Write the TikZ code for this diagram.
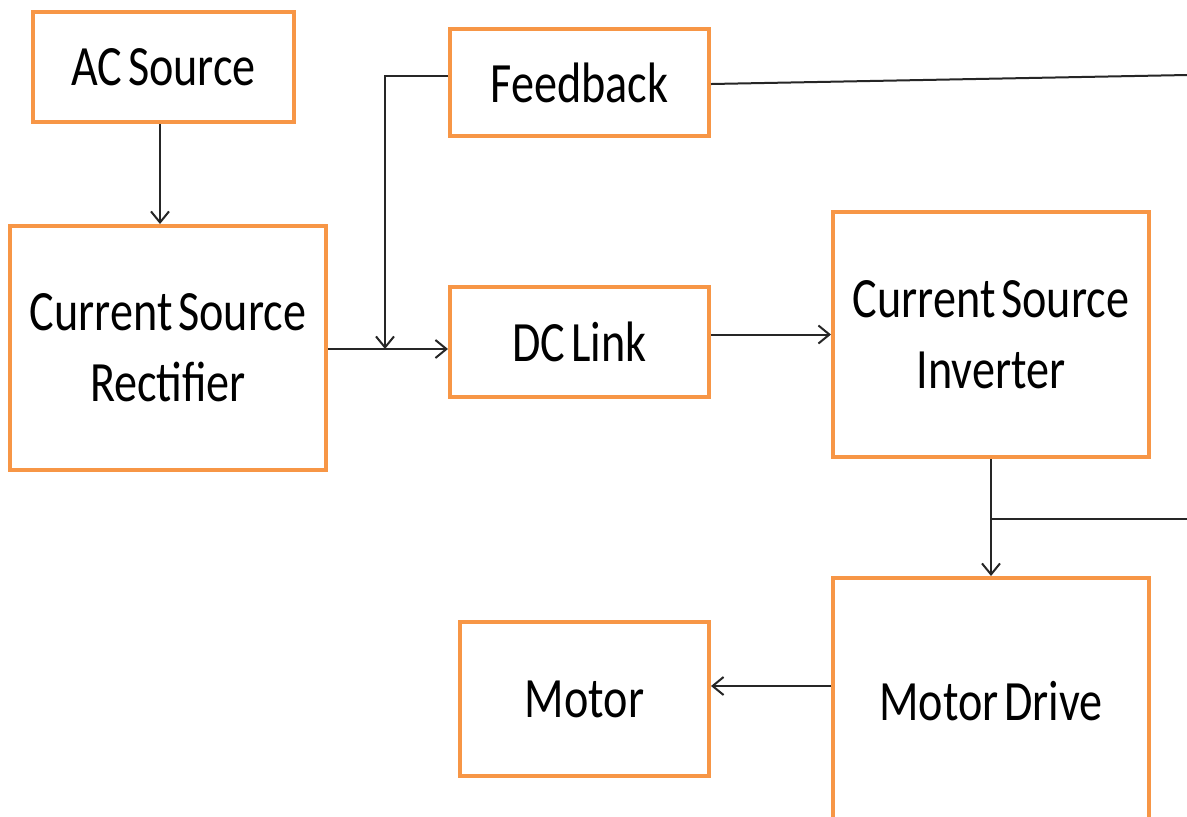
\documentclass[tikz,border=0pt]{standalone}
\usepackage{fontspec}
\setmainfont{Carlito}[FakeStretch=0.81, WordSpace=0.55]
\usetikzlibrary{arrows.meta}
\definecolor{boxorange}{HTML}{F79646}
\definecolor{wire}{HTML}{262626}
\tikzset{
  block/.style={draw=boxorange, line width=2pt, fill=white, inner sep=0pt,
    align=center, font=\fontsize{28.5pt}{35.5pt}\selectfont},
  wireline/.style={draw=wire, line width=1pt},
  arr/.style={wireline, -{Straight Barb[length=5.5pt,width=9pt]}}
}
\begin{document}
\begin{tikzpicture}[x=0.5pt,y=-0.5pt]
  \clip (0,0) rectangle (1187,816);
  \fill[white] (0,0) rectangle (1187,816);

  % blocks
  \node[block, minimum width=130.5pt, minimum height=55pt] (ac) at (163.5,67) {AC Source};
  \node[block, minimum width=158pt, minimum height=122pt] (rect) at (168,348) {Current Source\\Rectifier};
  \node[block, minimum width=129.5pt, minimum height=53.5pt] (fb) at (579.5,82.5) {Feedback};
  \node[block, minimum width=129.5pt, minimum height=55pt] (dc) at (579.5,342) {DC Link};
  \node[block, minimum width=158pt, minimum height=122.5pt] (inv) at (991,334.5) {Current Source\\Inverter};
  \node[block, minimum width=124.5pt, minimum height=77pt] (motor) at (584.5,699) {Motor};
  \node[block, minimum width=158pt, minimum height=123pt] (drive) at (991,701) {Motor Drive};

  % junctions and free ends
  \coordinate (jn) at (385,349);
  \coordinate (fbout) at (1187,75);
  \coordinate (br) at (991,519);
  \coordinate (brout) at (1187,519);

  % connectors
  \draw[arr] ([xshift=-1.75pt]ac.south) -- ([xshift=-1.75pt]ac.south |- rect.north);
  \draw[arr] ([yshift=-0.5pt]rect.east) -- ([yshift=-0.5pt]rect.east -| dc.west);
  \draw[arr] ([yshift=3.25pt]fb.west) -| (jn);
  \draw[wireline] ([yshift=-0.75pt]fb.east) -- (fbout);
  \draw[arr] (inv.west -| dc.east) -- (inv.west);
  \draw[arr] (inv.south) -- (drive.north);
  \draw[wireline] (br) -- (brout);
  \draw[arr] ([yshift=7.5pt]drive.west) -- ([yshift=7.5pt]drive.west -| motor.east);
\end{tikzpicture}
\end{document}
